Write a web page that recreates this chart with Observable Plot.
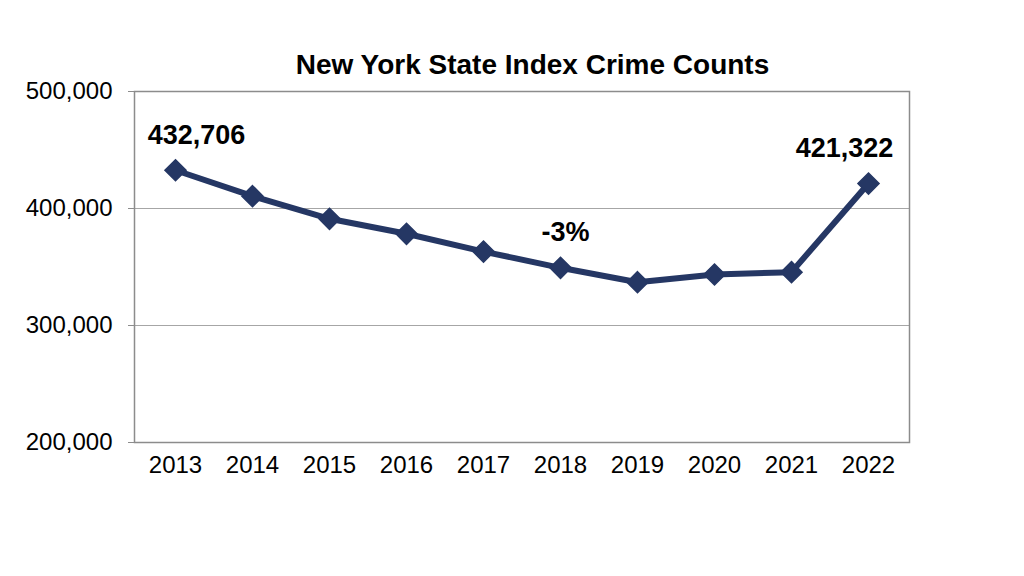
<!DOCTYPE html>
<html>
<head>
<meta charset="utf-8">
<script src="https://cdn.jsdelivr.net/npm/d3@7"></script>
<script src="https://cdn.jsdelivr.net/npm/@observablehq/plot@0.6"></script>
<style>
  html, body { margin: 0; padding: 0; background: #fff; }
  #wrap { position: relative; width: 1024px; height: 576px; font-family: "Liberation Sans", Arial, sans-serif; }
  #title { position: absolute; left: 134px; width: 797px; top: 49px; text-align: center; font-weight: bold; font-size: 28px; color: #000; line-height: 32px; }
  #chart { position: absolute; left: 0; top: 0; }
</style>
</head>
<body>
<div id="wrap">
  <div id="chart"></div>
  <div id="title">New York State Index Crime Counts</div>
</div>
<script>
const years = ["2013","2014","2015","2016","2017","2018","2019","2020","2021","2022"];
const counts = [432706, 410500, 391200, 378400, 363200, 349300, 337000, 343600, 345600, 421322];
const yTicks = [200000, 300000, 400000, 500000];
const gridTicks = [300000, 400000];
const annoYears = ["2013", "2022", "2018"];
const annoValues = [432706, 421322, 349300];
const annoLabels = ["432,706", "421,322", "-3%"];

const data = years.map((y, i) => ({year: y, count: counts[i]}));
const annos = annoYears.map((y, i) => ({year: y, count: annoValues[i], label: annoLabels[i]}));
const annoDx = [21, -24, 5];

const navy = "#253764";

const chart = Plot.plot({
  width: 1024,
  height: 576,
  marginLeft: 134,
  marginRight: 115,
  marginTop: 91,
  marginBottom: 134,
  style: {fontFamily: "'Liberation Sans', Arial, sans-serif", fontSize: "24px", color: "#000", background: "#fff"},
  x: {type: "point", domain: years, padding: 0.5, label: null},
  y: {domain: [200000, 500000], label: null},
  marks: [
    Plot.ruleY(gridTicks, {stroke: "#a6a6a6", strokeWidth: 1.2}),
    Plot.frame({stroke: "#8c8c8c", strokeWidth: 1.5}),
    Plot.axisY({ticks: yTicks, tickFormat: d3.format(","), tickSize: 6, tickPadding: 16, stroke: "#8c8c8c", fontSize: 24, label: null}),
    Plot.axisX({tickSize: 0, tickPadding: 13, fontSize: 24, label: null}),
    Plot.line(data, {x: "year", y: "count", stroke: navy, strokeWidth: 6}),
    Plot.dot(data, {x: "year", y: "count", symbol: "diamond2", r: 9.5, fill: navy, stroke: navy}),
    ...annos.map((a, i) => Plot.text([a], {x: "year", y: "count", text: "label", dx: annoDx[i], dy: -35, fontSize: 27, fontWeight: "bold", fill: "#000"}))
  ]
});
document.getElementById("chart").appendChild(chart);
</script>
</body>
</html>
